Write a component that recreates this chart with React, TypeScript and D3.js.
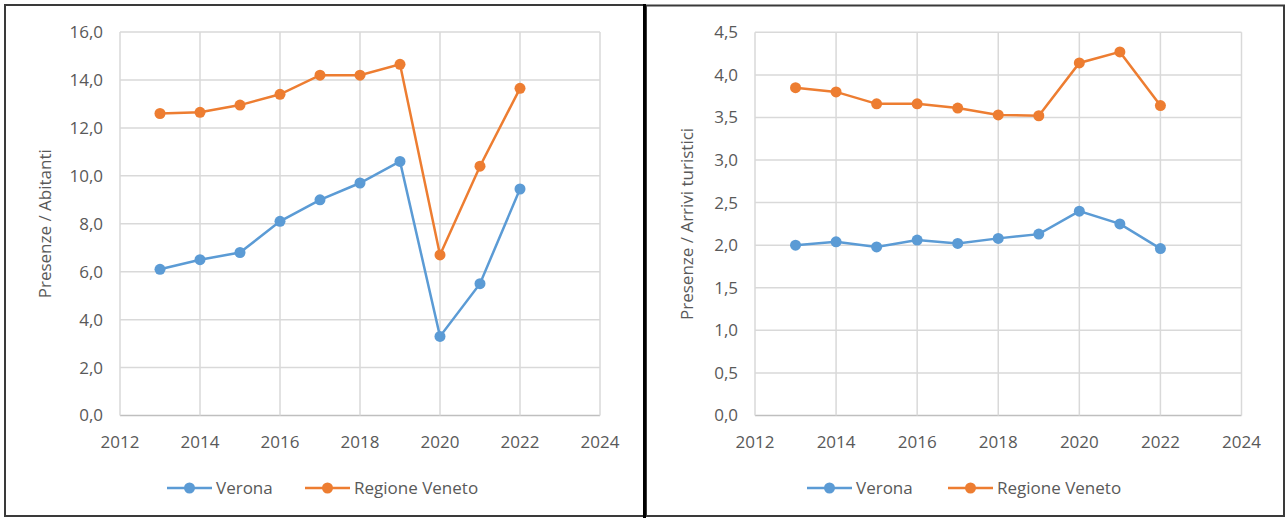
import React from "react";
import * as d3 from "d3";

const years = [2013, 2014, 2015, 2016, 2017, 2018, 2019, 2020, 2021, 2022];
const xTicks = [2012, 2014, 2016, 2018, 2020, 2022, 2024];

const veronaPerAbitanti = [6.1, 6.5, 6.8, 8.1, 9.0, 9.7, 10.6, 3.3, 5.5, 9.45];
const venetoPerAbitanti = [12.6, 12.65, 12.95, 13.4, 14.2, 14.2, 14.65, 6.7, 10.4, 13.65];
const yTicksLeft = [0, 2, 4, 6, 8, 10, 12, 14, 16];

const veronaPerArrivi = [2.0, 2.04, 1.98, 2.06, 2.02, 2.08, 2.13, 2.4, 2.25, 1.96];
const venetoPerArrivi = [3.85, 3.8, 3.66, 3.66, 3.61, 3.53, 3.52, 4.14, 4.27, 3.64];
const yTicksRight = [0, 0.5, 1, 1.5, 2, 2.5, 3, 3.5, 4, 4.5];

const seriesNames = ["Verona", "Regione Veneto"];
const BLUE = "#5B9BD5";
const ORANGE = "#ED7D31";
const FONT = "'Open Sans', sans-serif";
const TXT = "#595959";
const FS = 17;

const fmt = (v: number) => d3.format(".1f")(v).replace(".", ",");

type ChartProps = {
  x0: number;
  x1: number;
  yTop: number;
  yBottom: number;
  yMax: number;
  yTicks: number[];
  a: number[];
  b: number[];
  title: string;
  titleX: number;
  legendX: number[];
};

function Chart(p: ChartProps) {
  const x = d3.scaleLinear().domain([2012, 2024]).range([p.x0, p.x1]);
  const y = d3.scaleLinear().domain([0, p.yMax]).range([p.yBottom, p.yTop]);
  const line = d3
    .line<number>()
    .x((_, i) => x(years[i]))
    .y((d) => y(d));
  const series = [
    { vals: p.a, color: BLUE },
    { vals: p.b, color: ORANGE },
  ];
  const midY = (p.yTop + p.yBottom) / 2;
  return (
    <g>
      {p.yTicks.map((t) => (
        <line key={"h" + t} x1={p.x0} x2={p.x1} y1={y(t)} y2={y(t)} stroke={t === 0 ? "#bfbfbf" : "#d9d9d9"} strokeWidth={1.5} />
      ))}
      {xTicks.map((t) => (
        <line key={"v" + t} x1={x(t)} x2={x(t)} y1={p.yTop} y2={p.yBottom} stroke="#d9d9d9" strokeWidth={1.5} />
      ))}
      {p.yTicks.map((t) => (
        <text key={"yl" + t} x={p.x0 - 17} y={y(t)} dy="0.35em" textAnchor="end" fontFamily={FONT} fontSize={FS} fill={TXT}>
          {fmt(t)}
        </text>
      ))}
      {xTicks.map((t) => (
        <text key={"xl" + t} x={x(t)} y={p.yBottom + 27} dy="0.35em" textAnchor="middle" fontFamily={FONT} fontSize={FS} fill={TXT}>
          {t}
        </text>
      ))}
      <text
        transform={`translate(${p.titleX},${midY}) rotate(-90)`}
        dy="0.35em"
        textAnchor="middle"
        fontFamily={FONT}
        fontSize={FS}
        fill={TXT}
      >
        {p.title}
      </text>
      {series.map((s, si) => (
        <g key={"s" + si}>
          <path d={line(s.vals) || ""} fill="none" stroke={s.color} strokeWidth={2.5} />
          {s.vals.map((v, i) => (
            <circle key={i} cx={x(years[i])} cy={y(v)} r={5.5} fill={s.color} />
          ))}
        </g>
      ))}
      {series.map((s, si) => (
        <g key={"lg" + si} transform={`translate(${p.legendX[si]},488)`}>
          <line x1={0} x2={45} y1={0} y2={0} stroke={s.color} strokeWidth={2.5} />
          <circle cx={22.5} cy={0} r={5.5} fill={s.color} />
          <text x={49} y={0} dy="0.35em" fontFamily={FONT} fontSize={FS} fill={TXT}>
            {seriesNames[si]}
          </text>
        </g>
      ))}
    </g>
  );
}

export default function App() {
  return (
    <svg width={1287} height={518} style={{ position: "absolute", left: 0, top: 0, background: "#fff" }}>
      <rect x={0} y={0} width={1287} height={518} fill="#fff" />
      <rect x={5} y={5} width={639} height={511} fill="#fff" stroke="#3a3a3a" strokeWidth={2} />
      <rect x={646} y={5.5} width={638} height={510.5} fill="#fff" stroke="#3a3a3a" strokeWidth={2} />
      <line x1={644.5} x2={644.5} y1={4} y2={518} stroke="#000" strokeWidth={3} />
      <Chart
        x0={120}
        x1={600}
        yTop={32}
        yBottom={415.5}
        yMax={16}
        yTicks={yTicksLeft}
        a={veronaPerAbitanti}
        b={venetoPerAbitanti}
        title="Presenze / Abitanti"
        titleX={45}
        legendX={[167, 305]}
      />
      <Chart
        x0={755}
        x1={1241.5}
        yTop={32.3}
        yBottom={415.5}
        yMax={4.5}
        yTicks={yTicksRight}
        a={veronaPerArrivi}
        b={venetoPerArrivi}
        title="Presenze / Arrivi turistici"
        titleX={687}
        legendX={[807, 948]}
      />
    </svg>
  );
}
